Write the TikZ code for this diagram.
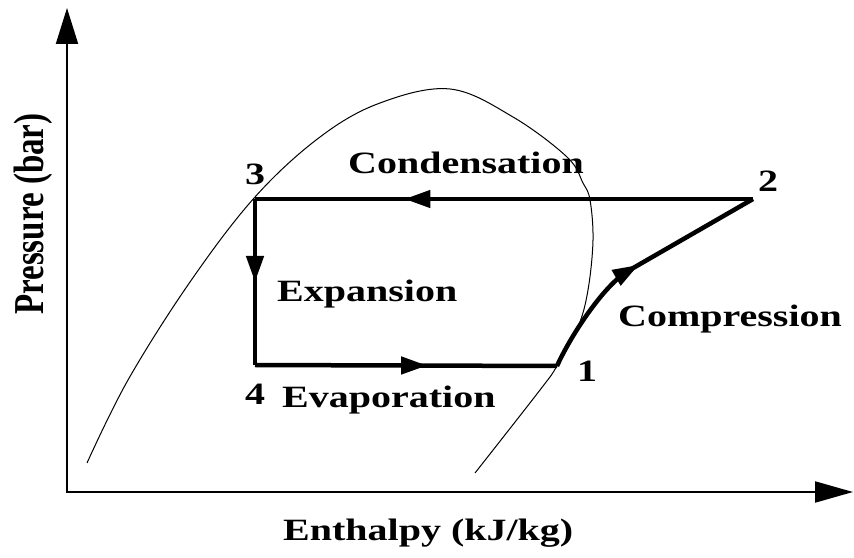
\documentclass[tikz,border=0pt]{standalone}
\usepackage{fontspec}
\setmainfont{Liberation Serif}
\usetikzlibrary{arrows.meta,decorations.markings}
\newcommand{\largo}[1]{\scalebox{1.29}[1]{#1}}

\begin{document}
\begin{tikzpicture}[x=1pt,y=1pt,
  eixo/.style={line width=2pt,{Triangle[length=36pt,width=22pt]}-{Triangle[length=38pt,width=21pt]}},
  domo/.style={line width=1pt},
  ciclo/.style={line width=4.5pt},
  seta/.style={postaction={decorate,decoration={markings,
      mark=at position #1 with {\arrow{Triangle[length=26pt,width=17pt]}}}}},
  rotulo/.style={inner sep=0pt,anchor=base west,font=\fontsize{31}{36}\selectfont\bfseries}
]
  \useasboundingbox (0,0) rectangle (854,557);

  % eixos
  \coordinate (ytop) at (67,549);
  \coordinate (xtop) at (853,65);
  \draw[eixo] (ytop) |- (xtop);

  % curva de saturacao
  \draw[domo] plot[smooth,tension=0.6] coordinates {
    (87,94) (128,177) (190,275) (255,360) (320,420) (380,454) (450,468)
    (513,440) (567,400) (583,374) (590,357) (593,317) (588,267) (578,230)
    (557,191) (540,167) (475,84)};

  % estados do ciclo
  \coordinate (s1) at (557,191);
  \coordinate (s2) at (753,358);
  \coordinate (s3) at (255,358);
  \coordinate (s4) at (255,192);

  \draw[ciclo,seta=0.7] (s2) -- (s3);
  \draw[ciclo,seta=0.5] (s3) -- (s4);
  \draw[ciclo,seta=0.57] (s4) -- (s1);
  \draw[ciclo,seta=0.5] (s1) .. controls (570,220) and (603,271) .. (628,286) -- (s2);

  \node[rotulo] (n3) at (245,372) {\largo{3}};
  \node[rotulo] (n2) at (758,365) {\largo{2}};
  \node[rotulo] (n1) at (577,175) {\largo{1}};
  \node[rotulo] (n4) at (245,152) {\largo{4}};

  \node[rotulo] (cond) at (348,383) {\largo{Condensation}};
  \node[rotulo] (exp) at (277,255) {\largo{Expansion}};
  \node[rotulo] (evap) at (282,149) {\largo{Evaporation}};
  \node[rotulo] (comp) at (618,230) {\largo{Compression}};

  \node[rotulo] (hx) at (283,17) {\largo{Enthalpy (kJ/kg)}};
  \node[rotulo,rotate=90,font=\fontsize{33}{38}\selectfont\bfseries] (py) at (43,242)
    {\scalebox{1}[1.29]{Pressure (bar)}};
\end{tikzpicture}
\end{document}
